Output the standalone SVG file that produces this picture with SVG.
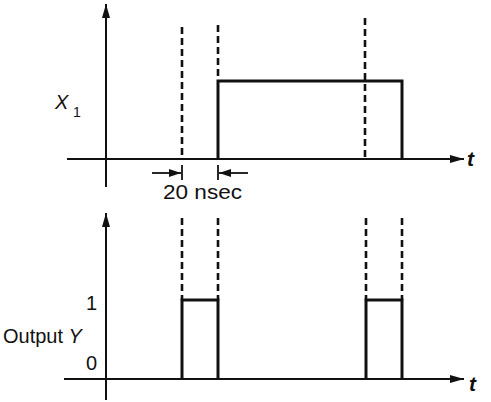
<svg xmlns="http://www.w3.org/2000/svg" width="491" height="402" viewBox="0 0 491 402">
<defs>
<marker id="ah" viewBox="0 0 14 8" refX="14" refY="4" markerWidth="14" markerHeight="8" markerUnits="userSpaceOnUse" orient="auto">
<path d="M0,0 L14,4 L0,8 Z" fill="#111"/>
</marker>
<marker id="dh" viewBox="0 0 12 8" refX="12" refY="4" markerWidth="12" markerHeight="8" markerUnits="userSpaceOnUse" orient="auto">
<path d="M0,0 L12,4 L0,8 Z" fill="#111"/>
</marker>
<style>
.ax{stroke:#111;stroke-width:2;fill:none}
.pl{stroke:#111;stroke-width:3;fill:none;stroke-linejoin:miter}
.ds{stroke:#111;stroke-width:2.6;fill:none;stroke-dasharray:7,4}
.tk{stroke:#111;stroke-width:1.8;fill:none}
text{font-family:"Liberation Sans",Arial,sans-serif;fill:#111}
.lb{font-size:20px}
.it{font-style:italic}
.tt{font-size:21px;font-style:italic;font-weight:bold}
</style>
</defs>
<rect width="491" height="402" fill="#fff"/>
<g id="top-axes">
<line class="ax" x1="106" y1="187" x2="106" y2="4" marker-end="url(#ah)"/>
<line class="ax" x1="67" y1="159" x2="464" y2="159" marker-end="url(#ah)"/>
<text class="tt" x="467" y="166">t</text>
</g>
<g id="top-signal">
<path class="pl" d="M218,159 V81 H402 V159"/>
<text class="it" x="55" y="109" style="font-size:20px">X</text>
<text x="73" y="117" style="font-size:14px">1</text>
</g>
<g id="top-guides">
<line class="ds" x1="182" y1="27" x2="182" y2="159"/>
<line class="ds" x1="218" y1="25" x2="218" y2="80"/>
<line class="ds" x1="365" y1="18" x2="365" y2="159"/>
</g>
<g id="connectors">
<line class="tk" x1="182" y1="165" x2="182" y2="180"/>
<line class="tk" x1="218" y1="165" x2="218" y2="180"/>
<line class="tk" x1="152" y1="173" x2="181" y2="173" marker-end="url(#dh)"/>
<line class="tk" x1="248" y1="173" x2="219" y2="173" marker-end="url(#dh)"/>
</g>
<g id="dim-label">
<text class="lb" x="163" y="199" textLength="79" lengthAdjust="spacingAndGlyphs">20 nsec</text>
</g>
<g id="bottom-axes">
<line class="ax" x1="106" y1="400" x2="106" y2="213" marker-end="url(#ah)"/>
<line class="ax" x1="64" y1="379" x2="464" y2="379" marker-end="url(#ah)"/>
<text class="tt" x="469" y="391">t</text>
</g>
<g id="bottom-signal">
<path class="pl" d="M182,379 V300 H218 V379"/>
<path class="pl" d="M366,379 V300 H402 V379"/>
<text class="lb" x="86" y="310">1</text>
<text class="lb" x="86" y="370">0</text>
<text class="lb" x="3" y="343">Output <tspan class="it">Y</tspan></text>
</g>
<g id="bottom-guides">
<line class="ds" x1="182" y1="218" x2="182" y2="300"/>
<line class="ds" x1="218" y1="218" x2="218" y2="300"/>
<line class="ds" x1="366" y1="218" x2="366" y2="300"/>
<line class="ds" x1="402" y1="218" x2="402" y2="300"/>
</g>
</svg>
